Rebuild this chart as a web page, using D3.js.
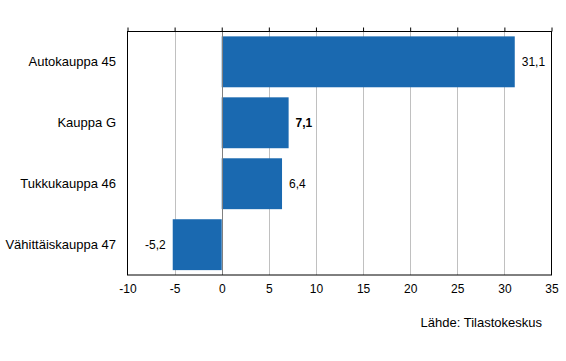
<!DOCTYPE html>
<html>
<head>
<meta charset="utf-8">
<script src="https://cdn.jsdelivr.net/npm/d3@7.9.0/dist/d3.min.js"></script>
<style>
  body { margin: 0; background: #fff; }
  svg text { font-family: "Liberation Sans", Arial, sans-serif; font-size: 13px; fill: #000; }
</style>
</head>
<body>
<svg id="chart" width="566" height="361"></svg>
<script>
const categories = ['Autokauppa 45', 'Kauppa G', 'Tukkukauppa 46', 'Vähittäiskauppa 47'];
const values = [31.1, 7.1, 6.4, -5.2];
const boldLabels = ['Kauppa G'];
const tickValues = [-10, -5, 0, 5, 10, 15, 20, 25, 30, 35];
const sourceText = 'Lähde: Tilastokeskus';

const width = 566, height = 361;
const margin = { top: 31.5, right: 14.5, bottom: 86, left: 127.5 };
const barColor = '#1a69b0';

const svg = d3.select('#chart');

const x = d3.scaleLinear().domain([-10, 35]).range([margin.left, width - margin.right]);
const y = d3.scaleBand().domain(categories)
  .range([margin.top, height - margin.bottom])
  .paddingInner(0.165).paddingOuter(0.08);

const fmt = v => String(v.toFixed(1)).replace('.', ',');

// gridlines
svg.append('g')
  .selectAll('line')
  .data(tickValues.slice(1, -1))
  .join('line')
  .attr('x1', d => Math.round(x(d)) + 0.5)
  .attr('x2', d => Math.round(x(d)) + 0.5)
  .attr('y1', margin.top)
  .attr('y2', height - margin.bottom)
  .attr('stroke', '#c0c0c0')
  .attr('stroke-width', 1);

// bars
svg.append('g')
  .selectAll('rect')
  .data(values)
  .join('rect')
  .attr('x', d => x(Math.min(0, d)))
  .attr('y', (d, i) => y(categories[i]))
  .attr('width', d => Math.abs(x(d) - x(0)))
  .attr('height', y.bandwidth())
  .attr('fill', barColor);

// zero line over the bars
svg.append('line')
  .attr('x1', Math.round(x(0)) + 0.5)
  .attr('x2', Math.round(x(0)) + 0.5)
  .attr('y1', margin.top)
  .attr('y2', height - margin.bottom)
  .attr('stroke', '#808080');

// frame
svg.append('rect')
  .attr('x', margin.left)
  .attr('y', margin.top)
  .attr('width', width - margin.right - margin.left)
  .attr('height', height - margin.bottom - margin.top)
  .attr('fill', 'none')
  .attr('stroke', '#000')
  .attr('stroke-width', 1);

// top tick marks
svg.append('g')
  .attr('transform', `translate(0, ${margin.top})`)
  .call(d3.axisTop(x).tickValues(tickValues).tickSize(4).tickFormat(''))
  .call(g => g.select('.domain').remove())
  .selectAll('line').attr('stroke', '#000');

// bottom tick labels
svg.append('g')
  .attr('transform', `translate(0, ${height - margin.bottom})`)
  .call(d3.axisBottom(x).tickValues(tickValues).tickSize(0).tickPadding(9).tickFormat(d => d))
  .call(g => g.select('.domain').remove())
  .selectAll('text')
  .style('font-family', '"Liberation Sans", Arial, sans-serif')
  .style('font-size', '12px')
  .attr('fill', '#000');

// category labels
svg.append('g')
  .selectAll('text')
  .data(categories)
  .join('text')
  .attr('x', 116)
  .attr('y', d => y(d) + y.bandwidth() / 2)
  .attr('dy', '0.35em')
  .attr('text-anchor', 'end')
  .text(d => d);

// value labels
svg.append('g')
  .selectAll('text')
  .data(values)
  .join('text')
  .attr('x', d => d >= 0 ? x(d) + 7 : x(d) - 7)
  .attr('y', (d, i) => y(categories[i]) + y.bandwidth() / 2)
  .attr('dy', '0.35em')
  .attr('text-anchor', d => d >= 0 ? 'start' : 'end')
  .style('font-size', '12px')
  .style('font-weight', (d, i) => boldLabels.includes(categories[i]) ? 'bold' : 'normal')
  .text(d => fmt(d));

// source
svg.append('text')
  .attr('x', 542)
  .attr('y', 322)
  .attr('dy', '0.35em')
  .attr('text-anchor', 'end')
  .text(sourceText);
</script>
</body>
</html>
